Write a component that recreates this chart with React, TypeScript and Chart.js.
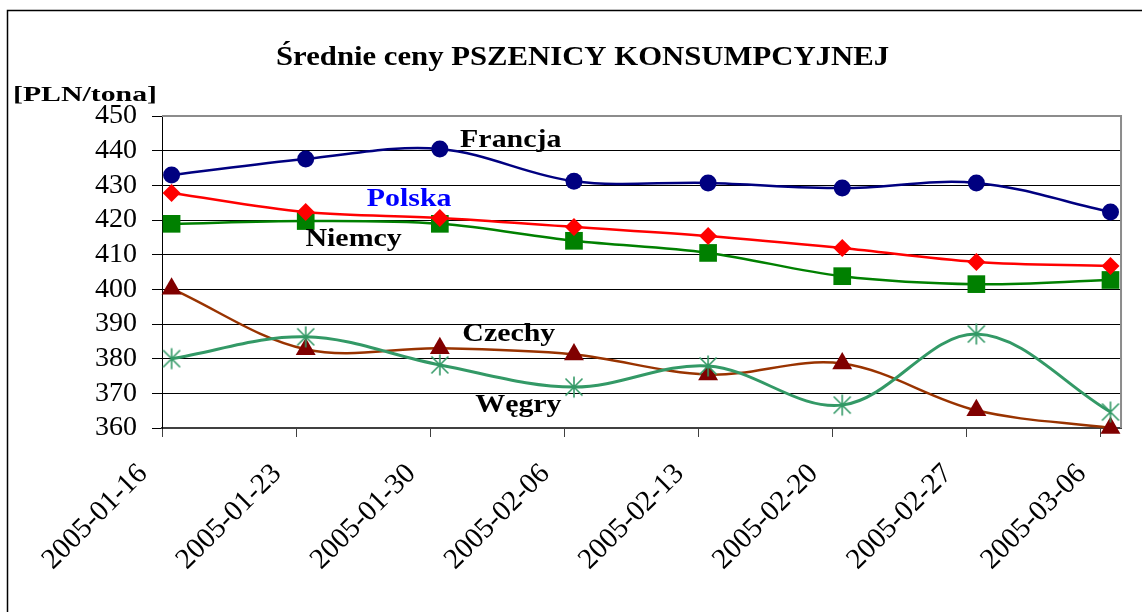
import { useEffect, useRef } from 'react';
import { Chart, registerables } from 'chart.js';

Chart.register(...registerables);

// ---------- data ----------
const DATES = ['2005-01-16', '2005-01-23', '2005-01-30', '2005-02-06', '2005-02-13', '2005-02-20', '2005-02-27', '2005-03-06'];
const FRANCJA = [433.0, 437.6, 440.5, 431.2, 430.7, 429.2, 430.7, 422.3];
const POLSKA = [427.8, 422.3, 420.6, 418.0, 415.4, 411.9, 407.9, 406.7];
const NIEMCY = [418.9, 419.7, 418.9, 414.0, 410.5, 403.8, 401.5, 402.7];
const CZECHY = [400.2, 382.7, 383.0, 381.2, 375.4, 378.6, 365.1, 360.0];
const WEGRY = [380.0, 386.3, 378.2, 371.8, 377.9, 366.6, 387.1, 364.6];
const Y_MIN = 360;
const Y_MAX = 450;
const Y_STEP = 10;

const TITLE = 'Średnie ceny PSZENICY KONSUMPCYJNEJ';
const UNIT = '[PLN/tona]';

// weekly date axis (days since first date); points sit half a day after each tick
const DAYS_PER_STEP = 7;
const POINT_OFFSET_DAYS = 0.5;

// series name annotations, placed in data space (days, value)
const SERIES_LABELS = [
  { text: 'Francja', color: '#000000', day: 18.2, value: 441.1 },
  { text: 'Polska', color: '#0000FF', day: 12.9, value: 424.0 },
  { text: 'Niemcy', color: '#000000', day: 10.0, value: 412.5 },
  { text: 'Czechy', color: '#000000', day: 18.1, value: 385.1 },
  { text: 'Węgry', color: '#000000', day: 18.6, value: 364.6 },
];

const SERIF = "'Liberation Serif', 'Times New Roman', serif";

function toPoints(values: number[]) {
  return values.map((v, i) => ({ x: i * DAYS_PER_STEP + POINT_OFFSET_DAYS, y: v }));
}

function makeStar(color: string): HTMLCanvasElement {
  const c = document.createElement('canvas');
  c.width = 24;
  c.height = 24;
  const g = c.getContext('2d')!;
  g.strokeStyle = color;
  g.lineWidth = 1.6;
  const cx = 12, cy = 12, a = 10.5, d = 8.5;
  g.beginPath();
  g.moveTo(cx, cy - a); g.lineTo(cx, cy + a);
  g.moveTo(cx - d, cy - d); g.lineTo(cx + d, cy + d);
  g.moveTo(cx + d, cy - d); g.lineTo(cx - d, cy + d);
  g.stroke();
  return c;
}

function fitText(ctx: CanvasRenderingContext2D, text: string, left: number, baseline: number, font: string, width: number, color: string) {
  ctx.save();
  ctx.font = font;
  ctx.fillStyle = color;
  ctx.textAlign = 'left';
  ctx.textBaseline = 'alphabetic';
  const w = ctx.measureText(text).width;
  ctx.translate(left, baseline);
  ctx.scale(width / w, 1);
  ctx.fillText(text, 0, 0);
  ctx.restore();
}

function stretchCentered(ctx: CanvasRenderingContext2D, text: string, cx: number, baseline: number, font: string, sx: number, color: string) {
  ctx.save();
  ctx.font = font;
  ctx.fillStyle = color;
  ctx.textAlign = 'left';
  ctx.textBaseline = 'alphabetic';
  const w = ctx.measureText(text).width * sx;
  ctx.translate(cx - w / 2, baseline);
  ctx.scale(sx, 1);
  ctx.fillText(text, 0, 0);
  ctx.restore();
}

const decorPlugin = {
  id: 'decor',
  afterDatasetsDraw(chart: any) {
    const ctx = chart.ctx as CanvasRenderingContext2D;
    const xs = chart.scales.x;
    const ys = chart.scales.y;
    SERIES_LABELS.forEach((l) => {
      stretchCentered(ctx, l.text, xs.getPixelForValue(l.day), ys.getPixelForValue(l.value), `bold 26px ${SERIF}`, 1.15, l.color);
    });
  },
  afterDraw(chart: any) {
    const ctx = chart.ctx as CanvasRenderingContext2D;
    const area = chart.chartArea;
    ctx.save();
    // plot area top and right border
    ctx.strokeStyle = '#8c8c8c';
    ctx.lineWidth = 2;
    ctx.beginPath();
    ctx.moveTo(area.left, area.top);
    ctx.lineTo(area.right, area.top);
    ctx.lineTo(area.right, area.bottom);
    ctx.stroke();
    // outer frame (left and top edges visible)
    ctx.strokeStyle = '#000';
    ctx.lineWidth = 1.5;
    ctx.beginPath();
    ctx.moveTo(7.5, 612);
    ctx.lineTo(7.5, 10.5);
    ctx.lineTo(1142, 10.5);
    ctx.stroke();
    ctx.restore();
    fitText(ctx, TITLE, 276, 65, `bold 27px ${SERIF}`, 613, '#000');
    fitText(ctx, UNIT, 13, 101, `bold 22px ${SERIF}`, 144, '#000');
  },
};

export default function App() {
  const ref = useRef<HTMLCanvasElement | null>(null);

  useEffect(() => {
    if (!ref.current) return;
    const star = makeStar('#339966');
    const chart = new Chart(ref.current, {
      type: 'line',
      data: {
        datasets: [
          {
            label: 'Węgry',
            data: toPoints(WEGRY),
            borderColor: '#339966',
            borderWidth: 3,
            pointStyle: star as any,
            pointRadius: 11,
            tension: 0.35,
            clip: false as any,
          },
          {
            label: 'Czechy',
            data: toPoints(CZECHY),
            borderColor: '#993300',
            borderWidth: 2.5,
            pointStyle: 'triangle',
            pointRadius: 11.5,
            pointBackgroundColor: '#800000',
            pointBorderColor: '#800000',
            pointBorderWidth: 0,
            tension: 0.35,
            clip: false as any,
          },
          {
            label: 'Francja',
            data: toPoints(FRANCJA),
            borderColor: '#000080',
            borderWidth: 2.5,
            pointStyle: 'circle',
            pointRadius: 8.5,
            pointBackgroundColor: '#000080',
            pointBorderColor: '#000080',
            pointBorderWidth: 0,
            tension: 0.35,
            clip: false as any,
          },
          {
            label: 'Polska',
            data: toPoints(POLSKA),
            borderColor: '#FF0000',
            borderWidth: 2.5,
            pointStyle: 'rectRot',
            pointRadius: 9,
            pointBackgroundColor: '#FF0000',
            pointBorderColor: '#FF0000',
            pointBorderWidth: 0,
            tension: 0.35,
            clip: false as any,
          },
          {
            label: 'Niemcy',
            data: toPoints(NIEMCY),
            borderColor: '#008000',
            borderWidth: 2.5,
            pointStyle: 'rect',
            pointRadius: 12.5,
            pointBackgroundColor: '#008000',
            pointBorderColor: '#008000',
            pointBorderWidth: 0,
            tension: 0.35,
            clip: false as any,
          },
        ],
      },
      options: {
        responsive: false,
        animation: false,
        layout: { padding: { top: 116, right: 23, left: 0, bottom: 0 } },
        plugins: {
          legend: { display: false },
          tooltip: { enabled: false },
          title: { display: false },
        },
        scales: {
          x: {
            type: 'linear',
            min: 0,
            max: (DATES.length - 1) * DAYS_PER_STEP + 1.05,
            afterBuildTicks: (s: any) => {
              s.ticks = DATES.map((_, i) => ({ value: i * DAYS_PER_STEP }));
            },
            afterFit: (s: any) => {
              s.height = 184;
            },
            ticks: {
              autoSkip: false,
              minRotation: 45,
              maxRotation: 45,
              padding: 20,
              labelOffset: -19,
              color: '#000',
              font: { family: SERIF, size: 29 },
              callback: (v: any) => DATES[Math.round(Number(v) / DAYS_PER_STEP)] ?? '',
            },
            grid: {
              drawOnChartArea: false,
              drawTicks: true,
              tickLength: 9,
              color: '#404040',
              lineWidth: 1,
            },
            border: { color: '#404040', width: 2 },
          },
          y: {
            min: Y_MIN,
            max: Y_MAX,
            afterFit: (s: any) => {
              s.width = 162;
            },
            ticks: {
              stepSize: Y_STEP,
              autoSkip: false,
              padding: 15,
              color: '#000',
              font: { family: SERIF, size: 28 },
            },
            grid: {
              color: (c: any) => (c.tick && c.tick.value === Y_MAX ? '#999999' : '#000000'),
              tickColor: '#000',
              tickLength: 10,
              lineWidth: 1,
            },
            border: { color: '#000', width: 1 },
          },
        },
      } as any,
      plugins: [decorPlugin],
    });
    return () => chart.destroy();
  }, []);

  return (
    <div style={{ position: 'absolute', left: 0, top: 0, width: 1146, height: 612, background: '#fff' }}>
      <canvas ref={ref} width={1146} height={612} style={{ display: 'block' }} />
    </div>
  );
}
